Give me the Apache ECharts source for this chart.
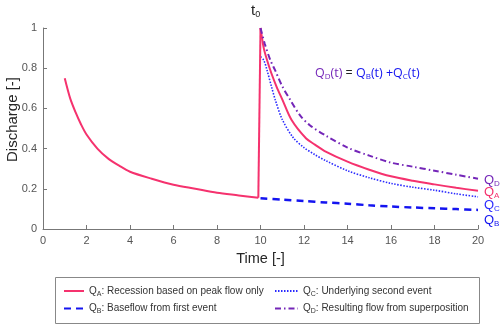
<!DOCTYPE html>
<html>
<head>
<meta charset="utf-8">
<script src="https://cdn.jsdelivr.net/npm/echarts@6/dist/echarts.min.js"></script>
<style>
  html, body { margin: 0; padding: 0; background: #fff; }
  #chart { width: 500px; height: 329px; }
</style>
</head>
<body>
<div id="chart"></div>
<script>
// Q_A: recession based on peak flow only (first event, jump at t0, second recession)
const tA = [1, 1.25, 1.5, 1.75, 2, 2.5, 3, 3.5, 4, 5, 6, 7, 8, 9, 9.9,
            10, 10.15, 10.3, 10.5, 10.75, 11, 11.43, 12.1, 12.5, 13, 14, 15, 16, 17, 18, 19, 20]
const qA = [0.75, 0.65, 0.58, 0.52, 0.47, 0.40, 0.35, 0.315, 0.285, 0.25, 0.22, 0.20, 0.18, 0.167, 0.155,
            1.0, 0.90, 0.841, 0.775, 0.705, 0.645, 0.542, 0.45, 0.42, 0.385, 0.335, 0.295, 0.262, 0.24, 0.222, 0.205, 0.19]
const jumpIdx = 14 // last point before t0

// Q_B: baseflow from first event
const tB = [10, 11, 12, 13, 14, 15, 16, 17, 18, 19, 20]
const qB = [0.153, 0.146, 0.139, 0.132, 0.126, 0.118, 0.112, 0.107, 0.103, 0.099, 0.095]

// Q_C: underlying second event
const tC = [10, 10.15, 10.3, 10.5, 10.68, 11, 11.5, 12, 12.5, 13, 14, 15, 16, 17, 18, 19, 20]
const qC = [0.857, 0.84, 0.79, 0.71, 0.642, 0.545, 0.455, 0.405, 0.37, 0.34, 0.29, 0.255, 0.227, 0.208, 0.193, 0.175, 0.16]

// Q_D: resulting flow from superposition
const tD = [10, 10.2, 10.45, 10.67, 11, 11.37, 11.82, 12.28, 13, 14, 15, 16, 17, 18, 19, 20]
const qD = [1.0, 0.92, 0.841, 0.79, 0.71, 0.642, 0.565, 0.515, 0.465, 0.405, 0.365, 0.33, 0.31, 0.29, 0.27, 0.25]

const legendText = {
  QA: 'Recession based on peak flow only',
  QB: 'Baseflow from first event',
  QC: 'Underlying second event',
  QD: 'Resulting flow from superposition'
}

const C = { pink: '#f5326e', blue: '#1414f0', blueDot: '#2a2aff', purple: '#7426b8' }
const FONT = 'Liberation Sans'

const zip = (xs, ys) => xs.map((x, i) => [x, ys[i]])

const endLbl = (sub, color, dy) => ({
  show: true,
  formatter: `{q|Q}{s|${sub}}`,
  offset: [-2, dy],
  rich: {
    q: { color, fontSize: 13, fontFamily: FONT },
    s: { color, fontSize: 8, fontFamily: FONT, padding: [6.5, 0, 0, 0] }
  }
})

const chart = echarts.init(document.getElementById('chart'))

const lineSeries = (name, data, color, width, type, sub, dy, smooth) => ({
  name, type: 'line', data, symbol: 'none', showSymbol: false,
  smooth: smooth,
  lineStyle: { color, width, type },
  itemStyle: { color },
  endLabel: sub ? endLbl(sub, color, dy) : { show: false },
  animation: false, z: 2
})

const legendRich = {
  q: { color: '#333', fontSize: 10, fontFamily: FONT },
  s: { color: '#333', fontSize: 7, fontFamily: FONT, padding: [6, 0, 0, 0] }
}
const legendFmt = n => `{q|Q}{s|${n.slice(1)}}{q|: ${legendText[n]}}`

const legendBase = {
  orient: 'vertical', top: 286, padding: 0,
  itemHeight: 12, itemGap: 6,
  itemStyle: { opacity: 0 },
  formatter: legendFmt, textStyle: { rich: legendRich }
}

const qaAll = zip(tA, qA)

chart.setOption({
  backgroundColor: '#fff',
  animation: false,
  grid: { left: 43, right: 22, top: 28, bottom: 100, outerBoundsMode: 'none' },
  xAxis: {
    type: 'value', min: 0, max: 20, interval: 2,
    name: 'Time [-]', nameLocation: 'middle', nameGap: 22, nameMoveOverlap: false,
    nameTextStyle: { fontSize: 14.5, color: '#262626', fontFamily: FONT },
    axisLine: { lineStyle: { color: '#777', width: 1 } },
    axisTick: { inside: true, length: 4, lineStyle: { color: '#777' } },
    axisLabel: { fontSize: 11, color: '#555', fontFamily: FONT, margin: 6 },
    splitLine: { show: false }
  },
  yAxis: {
    type: 'value', min: 0, max: 1, interval: 0.2,
    name: 'Discharge [-]', nameLocation: 'middle', nameGap: 23, nameMoveOverlap: false,
    nameTextStyle: { fontSize: 15, color: '#262626', fontFamily: FONT, padding: [0, 0, 0, 18] },
    axisLine: { show: true, lineStyle: { color: '#777', width: 1 } },
    axisTick: { show: true, inside: true, length: 4, lineStyle: { color: '#777' } },
    axisLabel: { fontSize: 11, color: '#555', fontFamily: FONT, margin: 6 },
    splitLine: { show: false }
  },
  legend: [
    Object.assign({ data: ['QA', 'QB'], left: 63, itemWidth: 20 }, legendBase),
    Object.assign({ data: ['QC', 'QD'], left: 274, itemWidth: 23 }, legendBase)
  ],
  graphic: [
    { type: 'rect', shape: { x: 55.5, y: 277.5, width: 424, height: 46 },
      style: { fill: 'none', stroke: '#888', lineWidth: 1 }, silent: true },
    { type: 'text', x: 251, y: 2,
      style: { text: '{t|t}{s|0}', rich: {
        t: { fontSize: 15, fontFamily: FONT, fill: '#222' },
        s: { fontSize: 9, fontFamily: FONT, fill: '#222', padding: [8, 0, 0, 0] } } } },
    { type: 'text', x: 315, y: 66,
      style: { text: '{p|Q}{ps|D}{p|(t)}{e| = }{b|Q}{bs|B}{b|(t) +Q}{bs|C}{b|(t)}', rich: {
        p: { fontSize: 12.5, fontFamily: 'Open Sans', fill: C.purple },
        ps: { fontSize: 8, fontFamily: 'Open Sans', fill: C.purple, padding: [7, 0, 0, 0] },
        e: { fontSize: 12.5, fontFamily: 'Open Sans', fill: '#222' },
        b: { fontSize: 12.5, fontFamily: 'Open Sans', fill: C.blue },
        bs: { fontSize: 8, fontFamily: 'Open Sans', fill: C.blue, padding: [7, 0, 0, 0] } } } }
  ],
  series: [
    lineSeries('QB', zip(tB, qB), C.blue, 2.5, [7, 5], 'B', 11, 0.3),
    lineSeries('QC', zip(tC, qC), C.blueDot, 1.6, [1.5, 1.5], 'C', 9, 0.3),
    // Q_A in three pieces: first recession, jump at t0, second recession
    lineSeries('QA', qaAll.slice(0, jumpIdx + 1), C.pink, 2, 'solid', null, 0, 0.3),
    lineSeries('QA', qaAll.slice(jumpIdx, jumpIdx + 2), C.pink, 2, 'solid', null, 0, false),
    lineSeries('QA', qaAll.slice(jumpIdx + 1), C.pink, 2, 'solid', 'A', 2, 0.3),
    lineSeries('QD', zip(tD, qD), C.purple, 2, [6, 3, 1.5, 3], 'D', 2, 0.3)
  ]
})
</script>
</body>
</html>
